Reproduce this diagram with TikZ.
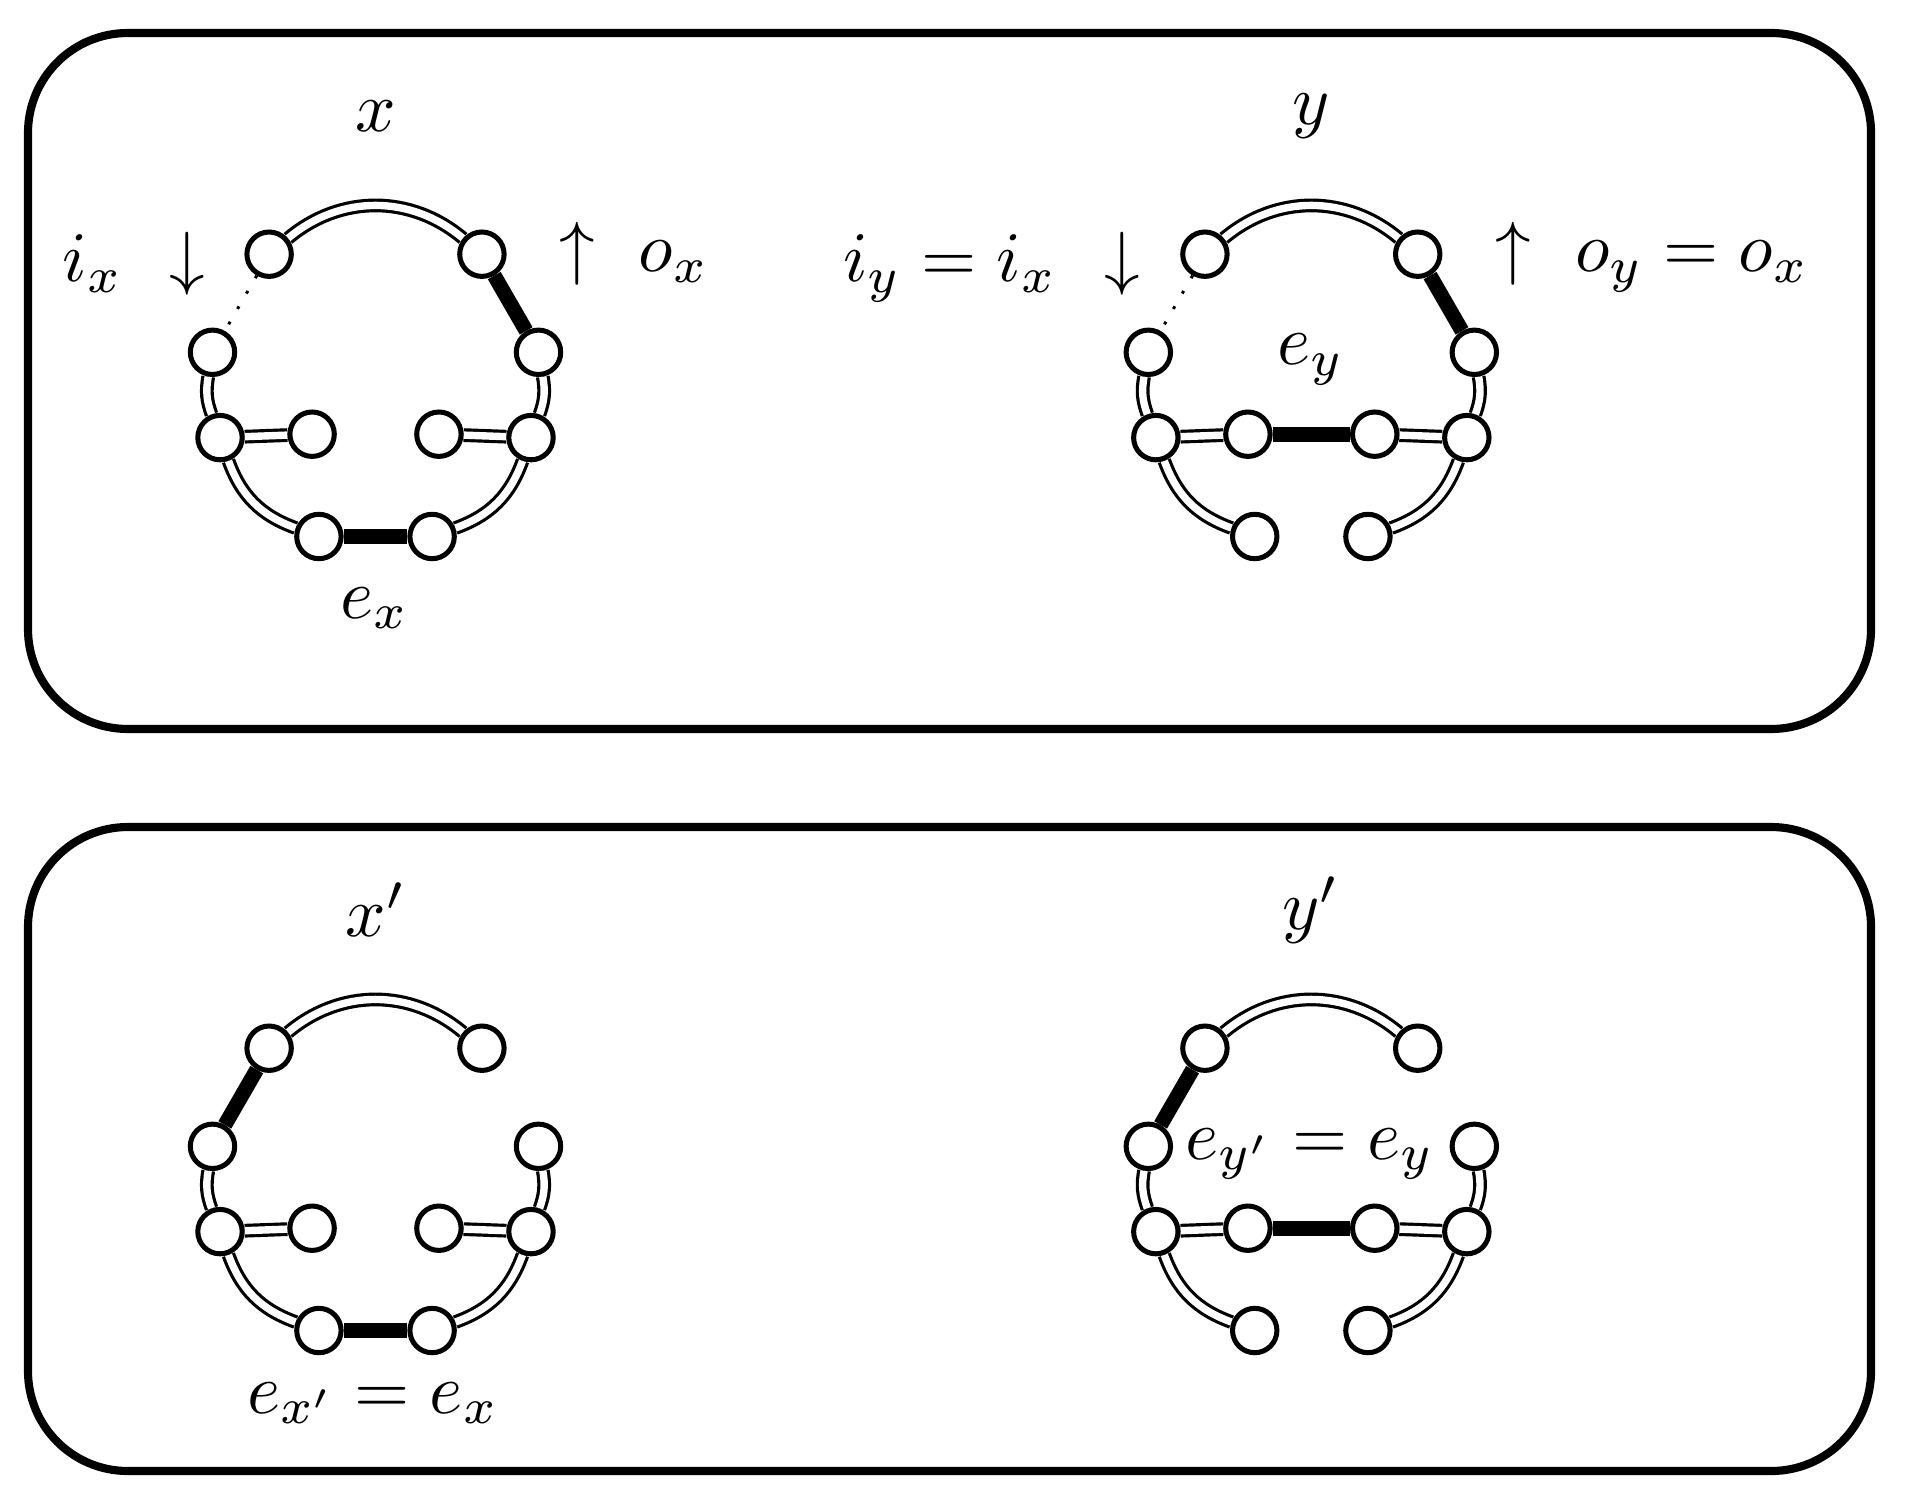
\documentclass[tikz,border=0pt]{standalone}
\usepackage{graphicx}
\usetikzlibrary{calc}
\pgfdeclarelayer{bg}
\pgfsetlayers{bg,main}
\newcommand\lbl[1]{\scalebox{0.96}{$#1$}}
\tikzset{
  vtx/.style={circle, draw, fill=white, line width=0.68pt, minimum size=6pt, inner sep=0pt},
  dbl/.style={double, double distance=1pt, line width=0.43pt},
  heavy/.style={line width=2pt},
  dots/.style={dotted, line width=0.4pt},
  panel/.style={rounded corners=13.5pt, line width=1.1pt},
  lab/.style={inner sep=0pt},
}
\newcommand\ringnodes[1]{%
  \node[vtx] (#1a) at (269.1,254.2) {};
  \node[vtx] (#1b) at (481.9,254.2) {};
  \node[vtx] (#1c) at (212.5,352.3) {};
  \node[vtx] (#1d) at (538.5,352.3) {};
  \node[vtx] (#1e) at (220.0,437.6) {};
  \node[vtx] (#1f) at (312.1,434.2) {};
  \node[vtx] (#1g) at (438.9,434.2) {};
  \node[vtx] (#1h) at (531.0,437.6) {};
  \node[vtx] (#1i) at (318.9,536.5) {};
  \node[vtx] (#1j) at (432.1,536.5) {};
}
\begin{document}
\begin{tikzpicture}[x=0.13514pt, y=-0.13514pt]
\useasboundingbox (0,0) rectangle (1916,1504);
\draw[panel] (28,33) rectangle (1871,729);
\draw[panel] (28,827) rectangle (1871,1471);

\begin{scope}[shift={(0,0)}] \ringnodes{p} \end{scope}
\begin{scope}[shift={(935.8,0)}] \ringnodes{q} \end{scope}
\begin{scope}[shift={(0,794)}] \ringnodes{r} \end{scope}
\begin{scope}[shift={(935.8,794)}] \ringnodes{s} \end{scope}

\begin{pgfonlayer}{bg}
% x
\draw[dbl] (pa) to[bend left=40] (pb);
\draw[dots] (pa) -- (pc);
\draw[heavy] (pb) -- (pd);
\draw[dbl] (pe) to[bend left=15] (pc);
\draw[dbl] (pd) to[bend left=15] (ph);
\draw[dbl] (pe) -- (pf);
\draw[dbl] (pg) -- (ph);
\draw[dbl] (pi) to[bend left=25] (pe);
\draw[dbl] (ph) to[bend left=25] (pj);
\draw[heavy] (pi) -- (pj);
% y
\draw[dbl] (qa) to[bend left=40] (qb);
\draw[dots] (qa) -- (qc);
\draw[heavy] (qb) -- (qd);
\draw[dbl] (qe) to[bend left=15] (qc);
\draw[dbl] (qd) to[bend left=15] (qh);
\draw[dbl] (qe) -- (qf);
\draw[heavy] (qf) -- (qg);
\draw[dbl] (qg) -- (qh);
\draw[dbl] (qi) to[bend left=25] (qe);
\draw[dbl] (qh) to[bend left=25] (qj);
% x'
\draw[dbl] (ra) to[bend left=40] (rb);
\draw[heavy] (ra) -- (rc);
\draw[dbl] (re) to[bend left=15] (rc);
\draw[dbl] (rd) to[bend left=15] (rh);
\draw[dbl] (re) -- (rf);
\draw[dbl] (rg) -- (rh);
\draw[dbl] (ri) to[bend left=25] (re);
\draw[dbl] (rh) to[bend left=25] (rj);
\draw[heavy] (ri) -- (rj);
% y'
\draw[dbl] (sa) to[bend left=40] (sb);
\draw[heavy] (sa) -- (sc);
\draw[dbl] (se) to[bend left=15] (sc);
\draw[dbl] (sd) to[bend left=15] (sh);
\draw[dbl] (se) -- (sf);
\draw[heavy] (sf) -- (sg);
\draw[dbl] (sg) -- (sh);
\draw[dbl] (si) to[bend left=25] (se);
\draw[dbl] (sh) to[bend left=25] (sj);
\end{pgfonlayer}

\node[lab] (lx) at (376,116) {\lbl{x}};
\node[lab] (ly) at (1311,116) {\lbl{y}};
\node[lab] (lxp) at (376,910) {\lbl{x'}};
\node[lab] (lyp) at (1311,910) {\lbl{y'}};
\node[lab,anchor=base] (ix) at (93,282) {\lbl{i_x}};
\node[lab,anchor=base] (dx) at (187,282) {\lbl{\downarrow}};
\node[lab,anchor=base] (ux) at (577,272) {\lbl{\uparrow}};
\node[lab,anchor=base] (ox) at (674,272) {\lbl{o_x}};
\node[lab,anchor=base] (ex) at (375,618) {\lbl{e_x}};
\node[lab,anchor=base] (iy) at (950,282) {\lbl{i_y = i_x}};
\node[lab,anchor=base] (dy) at (1122,282) {\lbl{\downarrow}};
\node[lab,anchor=base] (uy) at (1513,272) {\lbl{\uparrow}};
\node[lab,anchor=base] (oy) at (1692,272) {\lbl{o_y = o_x}};
\node[lab,anchor=base] (ey) at (1311,365) {\lbl{e_y}};
\node[lab,anchor=base] (exp) at (373,1413) {\lbl{e_{x'} = e_x}};
\node[lab,anchor=base] (eyp) at (1310,1159) {\lbl{e_{y'} = e_y}};
\end{tikzpicture}
\end{document}
